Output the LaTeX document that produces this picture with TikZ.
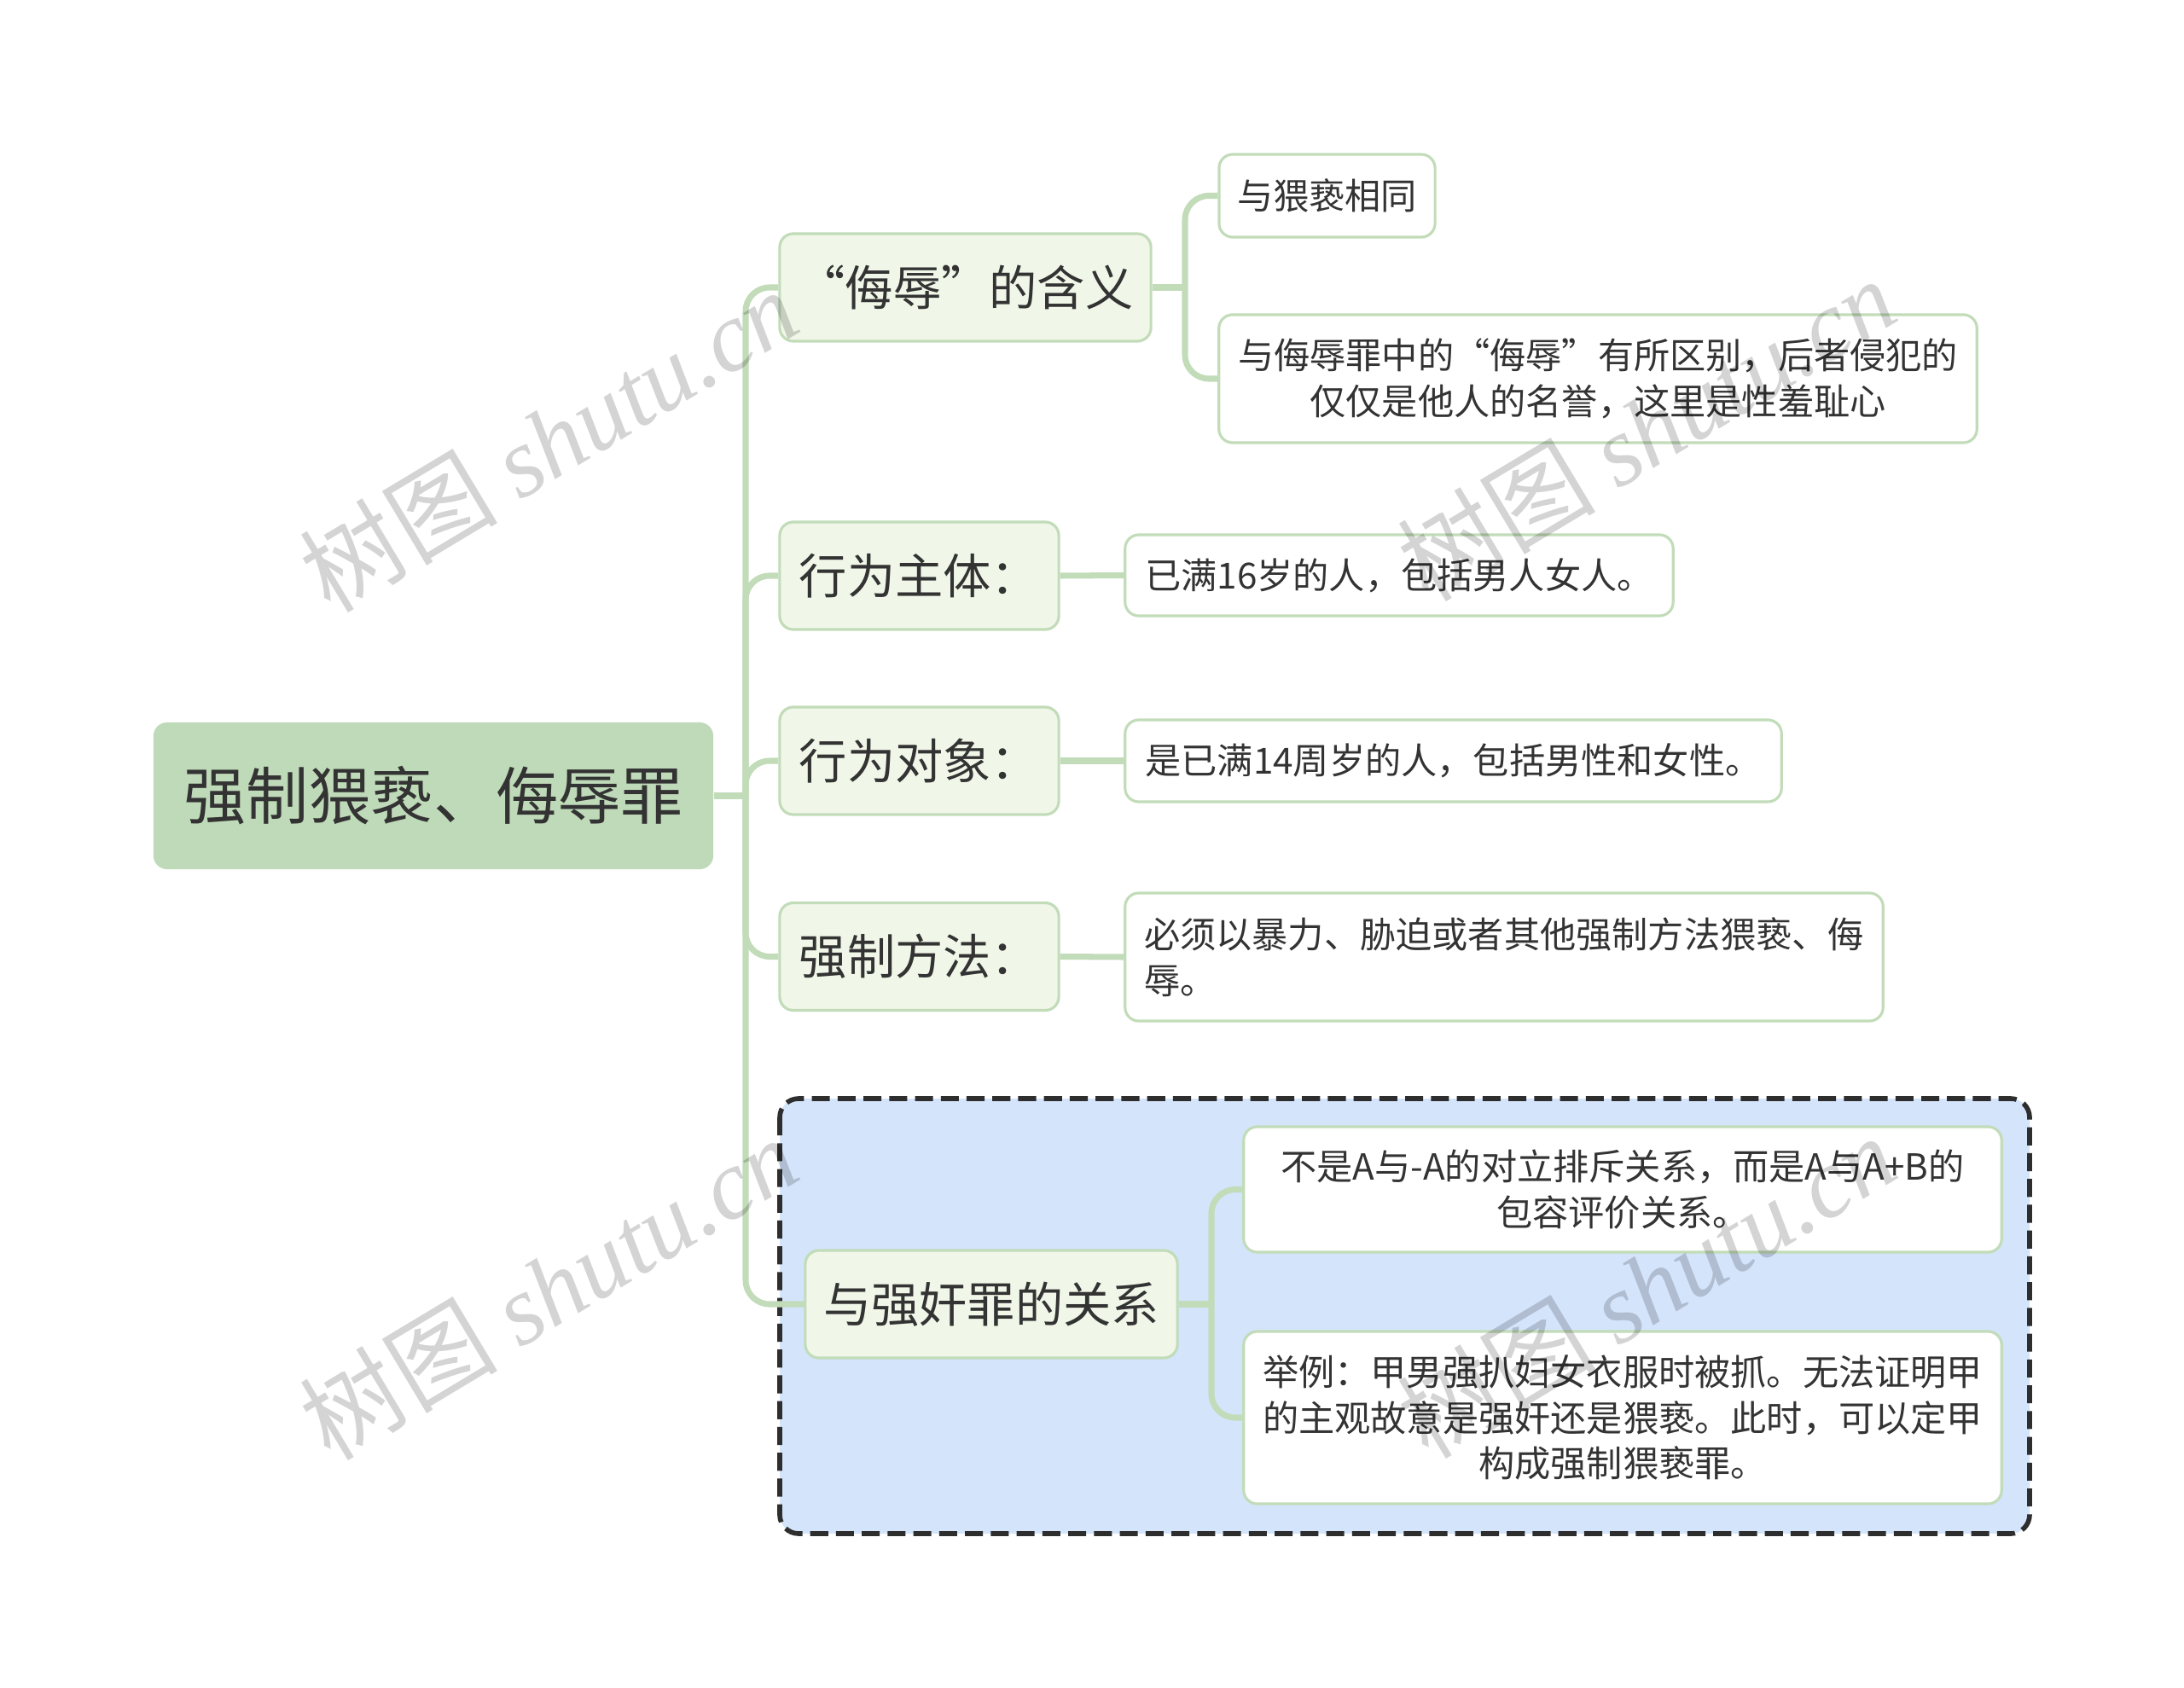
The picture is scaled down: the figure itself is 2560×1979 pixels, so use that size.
\documentclass[tikz,border=0pt]{standalone}
\usepackage{fontspec}
\setmainfont{Noto Sans CJK SC}
\newfontfamily\marklatin{Liberation Serif}
\usetikzlibrary{positioning}
\definecolor{Ink}{HTML}{333333}
\definecolor{Stem}{HTML}{C2DCB9}
\definecolor{RootFill}{HTML}{BFDAB8}
\definecolor{TopicFill}{HTML}{F0F7E8}
\definecolor{GroupFill}{HTML}{D4E4FB}
\definecolor{GroupEdge}{HTML}{2E2E2E}
\tikzset{
  rootbox/.style={fill=RootFill, rounded corners=0.16cm, inner sep=0pt,
    minimum width=6.56cm, minimum height=1.72cm, text=Ink,
    font=\fontsize{20.8pt}{25pt}\selectfont},
  topic/.style={fill=TopicFill, draw=Stem, line width=0.9pt,
    rounded corners=0.16cm, inner sep=0pt, minimum height=1.26cm, text=Ink,
    font=\fontsize{16pt}{20pt}\selectfont},
  leaf/.style={fill=white, draw=Stem, line width=0.9pt,
    rounded corners=0.16cm, inner sep=0pt, align=center, text=Ink,
    font=\fontsize{12pt}{15.2pt}\selectfont},
  stem/.style={draw=Stem, line width=2pt, rounded corners=0.28cm},
  wmark/.style={rotate=31, text=black, text opacity=0.17,
    font=\fontsize{33pt}{35pt}\selectfont},
}

\begin{document}
\begin{tikzpicture}[x=0.01cm, y=-0.01cm]
  \useasboundingbox (0,0) rectangle (2560,1979);
  % group frame
  \draw[GroupEdge, fill=GroupFill, line width=1.6pt,
    dash pattern=on 6pt off 2.6pt, rounded corners=0.22cm]
    (914,1288) rectangle (2379,1798);
  % root and topics
  \node[rootbox] (root) at (508,933) {强制猥亵、侮辱罪};
  \node[topic, minimum width=4.35cm] (meaning) at (1131.5,337) {“侮辱”的含义};
  \node[topic, minimum width=3.27cm] (subject) at (1077.5,675) {行为主体：};
  \node[topic, minimum width=3.27cm] (object) at (1077.5,892) {行为对象：};
  \node[topic, minimum width=3.27cm] (method) at (1077.5,1121.5) {强制方法：};
  \node[topic, minimum width=4.36cm] (relation) at (1162,1529) {与强奸罪的关系};
  % leaves
  \node[leaf, minimum width=2.53cm, minimum height=0.97cm] (same) at (1555.5,229.5) {与猥亵相同};
  \node[leaf, minimum width=8.88cm, minimum height=1.50cm] (differ) at (1873,444)
    {与侮辱罪中的“侮辱”有所区别，后者侵犯的\\仅仅是他人的名誉，这里是性羞耻心};
  \node[leaf, minimum width=6.42cm, minimum height=0.95cm] (age16) at (1640,674.5)
    {已满16岁的人，包括男人女人。};
  \node[leaf, minimum width=7.69cm, minimum height=0.96cm] (age14) at (1703.5,892)
    {是已满14周岁的人，包括男性和女性。};
  \node[leaf, align=left, minimum width=8.88cm, minimum height=1.50cm] (force) at (1763,1122)
    {必须以暴力、胁迫或者其他强制方法猥亵、侮\\辱。};
  \node[leaf, minimum width=8.88cm, minimum height=1.47cm] (contain) at (1902,1394.5)
    {不是A与-A的对立排斥关系，而是A与A+B的\\包容评价关系。};
  \node[leaf, minimum width=8.88cm, minimum height=2.02cm] (example) at (1902,1662)
    {举例：甲男强扒妇女衣服时被抓。无法证明甲\\的主观故意是强奸还是猥亵。此时，可以定甲\\构成强制猥亵罪。};
  % stems
  \coordinate (hub) at (874,933);
  \coordinate (hubA) at (1389,337);
  \coordinate (hubB) at (1420,1529);
  \draw[stem] (root.east) -- (hub);
  \foreach \t in {meaning,subject,object,method,relation}
    \draw[stem] (hub) |- (\t.west);
  \draw[stem] (meaning.east) -- (hubA);
  \foreach \l in {same,differ} \draw[stem] (hubA) |- (\l.west);
  \foreach \a/\b in {subject/age16, object/age14, method/force}
    \draw[stem] (\a.east) -- (\b.west);
  \draw[stem] (relation.east) -- (hubB);
  \foreach \l in {contain,example} \draw[stem] (hubB) |- (\l.west);
  % watermark
  \foreach \wx/\wy [count=\i] in {643/516, 1930/503, 643/1510, 1930/1508}
    \node[wmark] (mark\i) at (\wx,\wy) {树图 {\marklatin\itshape shutu.cn}};
\end{tikzpicture}
\end{document}
